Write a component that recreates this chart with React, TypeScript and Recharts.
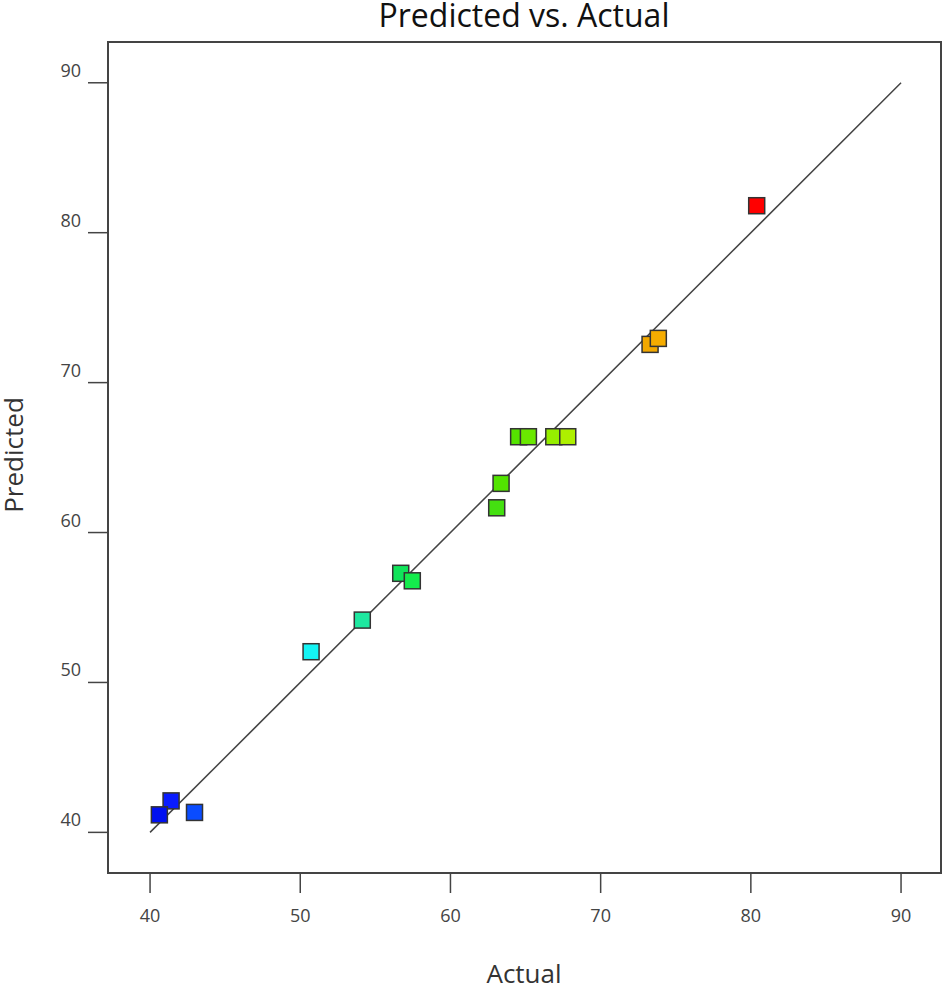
import React from 'react';
import { ScatterChart, Scatter, XAxis, YAxis, ReferenceLine, ReferenceArea } from 'recharts';

const actual = [41.4, 40.62, 42.96, 50.72, 54.13, 56.69, 57.46, 63.08, 63.37, 64.54, 65.19, 66.88, 67.81, 73.29, 73.84, 80.39];
const predicted = [42.1, 41.17, 41.33, 52.05, 54.16, 57.28, 56.78, 61.65, 63.28, 66.39, 66.39, 66.39, 66.39, 72.55, 72.95, 81.8];
const colors = ['#0a1cff', '#0010f0', '#0a4cff', '#14f4f4', '#1ee8a0', '#10e45a', '#14ec4c', '#44e010', '#52e400', '#55e400', '#6ae800', '#96ee00', '#aef000', '#f2a800', '#f5ac00', '#ff0000'];
const ticks = [40, 50, 60, 70, 80, 90];

const points = actual.map((a, i) => ({ actual: a, predicted: predicted[i], color: colors[i] }));

const xDomain = [37.2, 92.66];
const yDomain = [37.29, 92.72];
const font = '"Open Sans", "Noto Sans", sans-serif';

const Square = (props: any) => {
  const { cx, cy, payload } = props;
  return <rect x={cx - 8} y={cy - 8} width={16} height={16} fill={payload.color} stroke="#333" strokeWidth={1.5} />;
};

const XTick = ({ x, y, payload }: any) => (
  <text x={x} y={y + 27} textAnchor="middle" fontSize={18} fill="#444" fontFamily={font}>{payload.value}</text>
);

const YTick = ({ x, y, payload }: any) => (
  <text x={x - 5} y={y - 6} textAnchor="end" fontSize={18} fill="#444" fontFamily={font}>{payload.value}</text>
);

export default function App() {
  return (
    <div style={{ position: 'absolute', left: 0, top: 0 }}>
      <ScatterChart width={945} height={988} margin={{ top: 42, right: 4, bottom: 55, left: 48 }}>
        <XAxis type="number" dataKey="actual" domain={xDomain} ticks={ticks} allowDataOverflow
          tickSize={20} tick={<XTick />} axisLine={false} tickLine={{ stroke: '#444', strokeWidth: 1.5 }} height={60} />
        <YAxis type="number" dataKey="predicted" domain={yDomain} ticks={ticks} allowDataOverflow
          tickSize={20} tick={<YTick />} axisLine={false} tickLine={{ stroke: '#444', strokeWidth: 1.5 }} width={60} />
        <ReferenceArea x1={xDomain[0]} x2={xDomain[1]} y1={yDomain[0]} y2={yDomain[1]} fill="none" fillOpacity={0}
          stroke="#444" strokeWidth={2} ifOverflow="visible" />
        <ReferenceLine segment={[{ x: 40, y: 40 }, { x: 90, y: 90 }]} stroke="#444" strokeWidth={1.5} />
        <Scatter data={points} shape={<Square />} isAnimationActive={false} />
        <text x={524} y={27} textAnchor="middle" fontSize={32} fill="#111" fontFamily={font}>Predicted vs. Actual</text>
        <text x={524} y={983} textAnchor="middle" fontSize={26} fill="#333" fontFamily={font}>Actual</text>
        <text x={23} y={455} textAnchor="middle" fontSize={26} fill="#333" fontFamily={font} transform="rotate(-90 23 455)">Predicted</text>
      </ScatterChart>
    </div>
  );
}
